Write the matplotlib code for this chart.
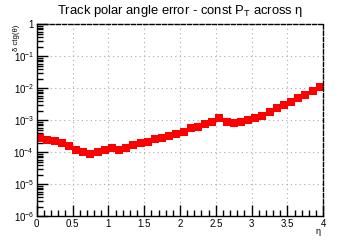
import numpy as np
import matplotlib
matplotlib.use("Agg")
import matplotlib.pyplot as plt
from matplotlib.ticker import FixedLocator, MultipleLocator, NullFormatter, FixedFormatter

eta = [0.05 + 0.1 * i for i in range(40)]
err = [2.84e-4, 2.5e-4, 2.26e-4, 2.0e-4, 1.63e-4, 1.22e-4, 1.02e-4, 9.1e-5, 1.07e-4, 1.22e-4,
       1.35e-4, 1.22e-4, 1.41e-4, 1.71e-4, 2.0e-4, 2.2e-4, 2.64e-4, 2.9e-4, 3.35e-4, 3.9e-4,
       4.5e-4, 5.7e-4, 6.3e-4, 7.9e-4, 9.2e-4, 1.2e-3, 9.2e-4, 8.4e-4, 9.2e-4, 1.0e-3,
       1.17e-3, 1.35e-3, 1.84e-3, 2.5e-3, 3.05e-3, 3.9e-3, 5.2e-3, 6.3e-3, 8.1e-3, 1.1e-2]

xticks = [0, 0.5, 1, 1.5, 2, 2.5, 3, 3.5, 4]
xticklabels = ['0', '0.5', '1', '1.5', '2', '2.5', '3', '3.5', '4']
yticks = [1e-6, 1e-5, 1e-4, 1e-3, 1e-2, 1e-1, 1]
yticklabels = ['10$^{-6}$', '10$^{-5}$', '10$^{-4}$', '10$^{-3}$', '10$^{-2}$', '10$^{-1}$', '1']

title = "Track polar angle error - const P$_{\\mathregular{T}}$ across \u03b7"
ylabel = "\u03b4 ctg(\u03b8)"
xlabel = "\u03b7"

plt.rcParams['font.family'] = ['Liberation Sans', 'DejaVu Sans']
plt.rcParams['mathtext.fontset'] = 'custom'
plt.rcParams['mathtext.rm'] = 'Liberation Sans'

fig = plt.figure(figsize=(3.6, 2.4), dpi=100)
ax = fig.add_axes([0.102, 0.098, 0.796, 0.800])
ax.set_yscale('log')
ax.set_xlim(0, 4)
ax.set_ylim(1e-6, 1)

ax.plot(eta, err, linestyle='none', marker='s', markersize=5.4, color='#ff0000',
        markeredgewidth=0)

for s in ['top', 'right']:
    ax.spines[s].set_linestyle((0, (3, 1.5)))
    ax.spines[s].set_linewidth(1.0)
for s in ['left', 'bottom']:
    ax.spines[s].set_linewidth(1.0)

ax.xaxis.set_major_locator(FixedLocator(xticks))
ax.xaxis.set_major_formatter(FixedFormatter(xticklabels))
ax.xaxis.set_minor_locator(MultipleLocator(0.1))
ax.yaxis.set_major_locator(FixedLocator(yticks))
ax.yaxis.set_major_formatter(FixedFormatter(yticklabels))
minor_y = [m * 10.0 ** e for e in range(-6, 0) for m in range(2, 10)]
ax.yaxis.set_minor_locator(FixedLocator(minor_y))
ax.yaxis.set_minor_formatter(NullFormatter())

ax.tick_params(axis='both', which='major', direction='in', length=8, width=1,
               labelsize=7, top=False, right=False, pad=2)
ax.tick_params(axis='both', which='minor', direction='in', length=4, width=1,
               top=False, right=False)

ax.grid(True, which='major', linestyle=(0, (1, 3)), color='#aaaaaa', linewidth=0.8)

fig.text(0.5, 0.955, title, ha='center', va='center', fontsize=9.4)
fig.text(0.045, 0.895, ylabel, rotation=90, ha='center', va='top', fontsize=5.5)
fig.text(0.883, 0.035, xlabel, ha='center', va='center', fontsize=6.5)

fig.savefig('out.png', dpi=100)
